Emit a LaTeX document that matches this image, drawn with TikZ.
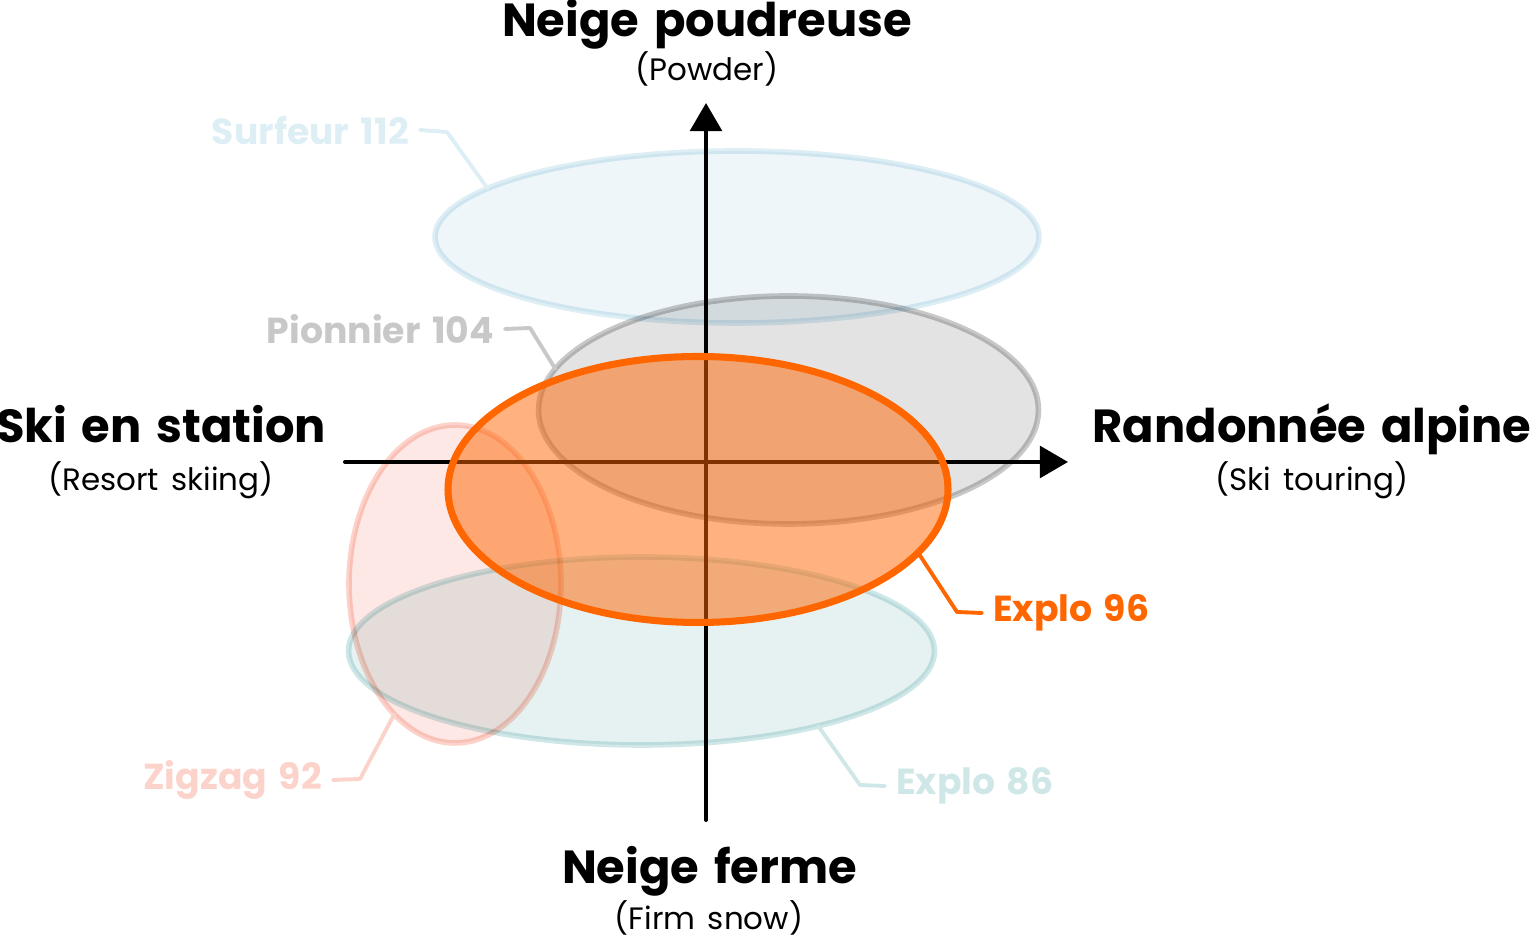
\documentclass[tikz,border=0pt]{standalone}
\usepackage{fontspec}
\setmainfont{Poppins}[WordSpace=1.5]
\usepackage{tikz}
\usetikzlibrary{shapes.geometric,arrows.meta}
\definecolor{surfline}{HTML}{DDEEF5}
\definecolor{surffill}{HTML}{EEF6FA}
\definecolor{pionline}{HTML}{C8C8C8}
\definecolor{pionfill}{HTML}{E3E3E3}
\definecolor{zigline}{HTML}{FCD3CA}
\definecolor{zigfill}{HTML}{FDE8E5}
\definecolor{lowline}{HTML}{D0E7E8}
\definecolor{lowfill}{HTML}{E6F2F2}
\definecolor{explorange}{HTML}{FF6600}
\tikzset{
    zone/.style={ellipse, inner sep=0mm, outer sep=0mm, line width=1.6pt},
    axis/.style={line width=1.15pt, line cap=round, -{Triangle[length=8pt, width=9pt]}},
    head/.style={font=\bfseries\fontsize{13.2}{15}\selectfont, anchor=base},
    sub/.style={font=\fontsize{8.8}{11}\selectfont, anchor=base},
    tag/.style={font=\bfseries\fontsize{10.3}{12}\selectfont, inner sep=3pt},
    leader/.style={line width=1.1pt, line cap=round, line join=round}
}

\begin{document}
\begin{tikzpicture}
    \useasboundingbox (0,0) rectangle (15.3,9.39);

    % axes
    \coordinate (xs) at (3.45, 4.77);
    \coordinate (xe) at (10.68, 4.77);
    \coordinate (ys) at (7.06, 1.19);
    \coordinate (ye) at (7.06, 8.36);
    \draw[axis] (xs) -- (xe);
    \draw[axis] (ys) -- (ye);

    % light zones
    \begin{scope}[blend mode=multiply]
        \node (lowz) [zone, draw=lowline, fill=lowfill, minimum width=5.86cm, minimum height=1.88cm] at (6.415, 2.88) {};
        \node (zig) [zone, draw=zigline, fill=zigfill, minimum width=2.12cm, minimum height=3.18cm] at (4.55, 3.55) {};
        \node (pion) [zone, draw=pionline, fill=pionfill, minimum width=5.00cm, minimum height=2.28cm] at (7.885, 5.29) {};
        \node (surf) [zone, draw=surfline, fill=surffill, minimum width=6.04cm, minimum height=1.72cm] at (7.37, 7.02) {};
    \end{scope}

    % the ski itself
    \node (expl) [zone, draw=explorange, line width=2pt, fill=explorange, fill opacity=.5, minimum width=5.00cm, minimum height=2.66cm] at (6.98, 4.495) {};

    % axis titles
    \node (top) [head] at (7.07, 9.02) {Neige poudreuse};
    \node (topsub) [sub] at (7.07, 8.58) {(Powder)};
    \node (left) [head] at (1.61, 4.96) {Ski en station};
    \node (leftsub) [sub] at (1.61, 4.48) {(Resort skiing)};
    \node (right) [head] at (13.12, 4.96) {Randonnée alpine};
    \node (rightsub) [sub] at (13.12, 4.48) {(Ski touring)};
    \node (bot) [head] at (7.095, 0.55) {Neige ferme};
    \node (botsub) [sub] at (7.09, 0.09) {(Firm snow)};

    % model tags
    \node (surft) [tag, text=surfline, anchor=east] at (4.20, 8.09) {Surfeur 112};
    \node (piont) [tag, text=pionline, anchor=east] at (5.05, 6.10) {Pionnier 104};
    \node (explt) [tag, text=explorange, anchor=west] at (9.82, 3.26) {Explo 96};
    \node (zigt) [tag, text=zigline, anchor=east] at (3.33, 1.59) {Zigzag 92};
    \node (lowt) [tag, text=lowline, anchor=west] at (8.85, 1.53) {Explo 86};

    \coordinate (surfc) at (4.47, 8.07);
    \coordinate (pionc) at (5.30, 6.11);
    \coordinate (explc) at (9.57, 3.27);
    \coordinate (zigc) at (3.60, 1.60);
    \coordinate (lowc) at (8.60, 1.54);

    \draw[leader, surfline] (surft.east) -- (surfc) -- (surf.169);
    \draw[leader, pionline] (piont.east) -- (pionc) -- (pion.170);
    \draw[leader, explorange] (explt.west) -- (explc) -- (expl.344);
    \draw[leader, zigline] (zigt.east) -- (zigc) -- (zig.245);
    \draw[leader, lowline] (lowt.west) -- (lowc) -- (lowz.337);
\end{tikzpicture}
\end{document}
